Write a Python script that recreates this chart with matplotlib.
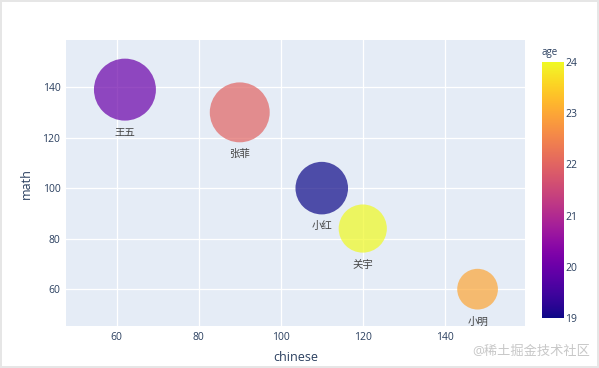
import matplotlib.pyplot as plt
import numpy as np

# data
names = ["王五", "张菲", "小红", "关宇", "小明"]
chinese = [62, 90, 110, 120, 148]
math = [139, 130, 100, 84, 60]
age = [20, 22, 19, 24, 23]

plt.rcParams["font.family"] = ["Open Sans", "Noto Sans CJK SC", "DejaVu Sans"]
txt_color = "#2a3f5f"

fig = plt.figure(figsize=(5.99, 3.68), dpi=100)
fig.patch.set_facecolor("white")
fig.patch.set_edgecolor("#e6e6e6")
fig.patch.set_linewidth(1.5)
ax = fig.add_axes([0.110, 0.114, 0.766, 0.777])
ax.set_facecolor("#E5ECF6")

# bubble area proportional to math score, biggest ~62 px across
sizes = np.array(math) / max(math) * 1990
sc = ax.scatter(chinese, math, s=sizes, c=age, cmap="plasma", vmin=19, vmax=24,
                alpha=0.7, edgecolors="none", zorder=3)

for x, y, n, s in zip(chinese, math, names, sizes):
    r = np.sqrt(s) / 2
    ax.annotate(n, (x, y), xytext=(0, -r - 5), textcoords="offset points",
                ha="center", va="top", fontsize=7.5, color="#444444", zorder=4)

ax.set_xlim(47.6, 159.5)
ax.set_ylim(45.4, 158.6)
ax.set_xticks([60, 80, 100, 120, 140])
ax.set_yticks([60, 80, 100, 120, 140])
ax.grid(True, color="white", linewidth=0.9)
ax.set_axisbelow(True)
for sp in ax.spines.values():
    sp.set_visible(False)
ax.tick_params(length=0, labelsize=7.5, labelcolor=txt_color, pad=4)
ax.set_xlabel("chinese", fontsize=9, color=txt_color, labelpad=6)
ax.set_ylabel("math", fontsize=9, color=txt_color, labelpad=7)

cax = fig.add_axes([0.905, 0.136, 0.0367, 0.696])
cb = fig.colorbar(sc, cax=cax)
cb.solids.set_alpha(1)
cb.outline.set_visible(False)
cb.set_ticks([19, 20, 21, 22, 23, 24])
cax.tick_params(length=0, labelsize=7.5, labelcolor=txt_color, pad=1)
fig.text(0.918, 0.842, "age", fontsize=7, color=txt_color, ha="center", va="bottom")

fig.text(0.985, 0.045, "@稀土掘金技术社区", fontsize=9.5, color="#c8c8c8",
         ha="right", va="center")

fig.savefig("out.png", dpi=100, edgecolor=fig.get_edgecolor())
